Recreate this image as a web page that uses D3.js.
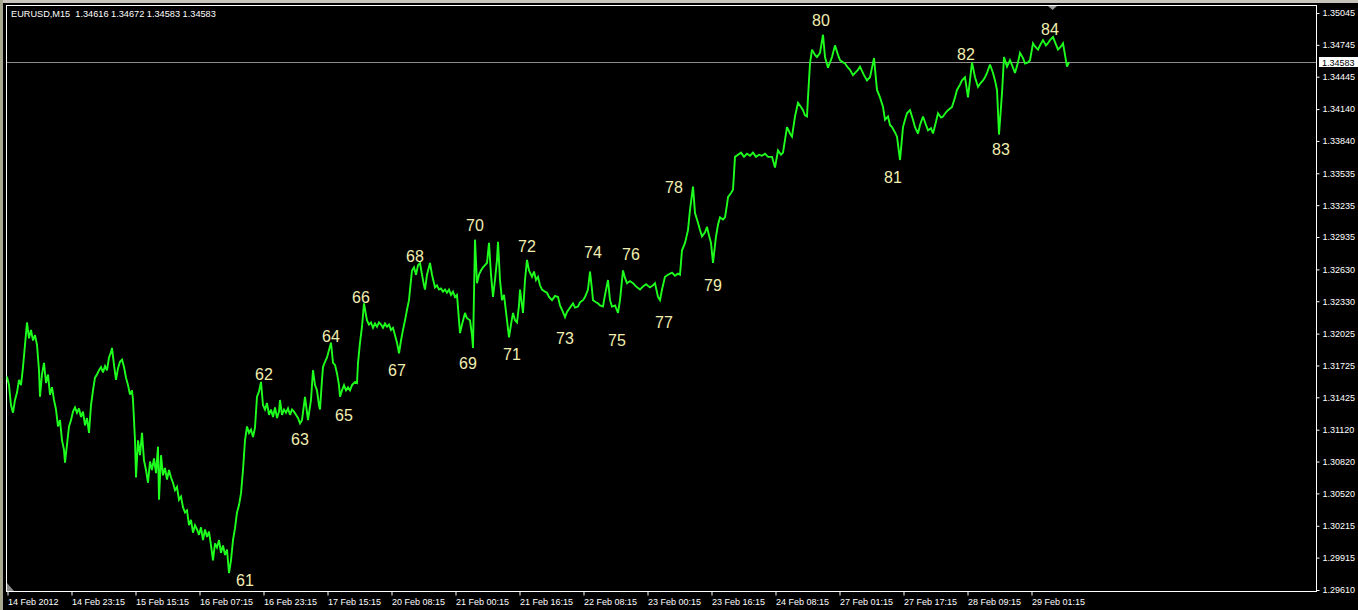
<!DOCTYPE html>
<html><head><meta charset="utf-8">
<script src="https://cdn.jsdelivr.net/npm/d3@7"></script>
<style>
html,body{margin:0;padding:0;background:#000;overflow:hidden}
svg{display:block}
text{font-family:"Liberation Sans",Arial,sans-serif}
</style></head><body>
<svg id="chart" width="1358" height="610"></svg>
<script>
// ---------- data ----------
const symbol = "EURUSD";
const timeframe = "M15";
const headerOHLC = [1.34616, 1.34672, 1.34583, 1.34583];
const bidPrice = 1.34583;

const priceTicks = [1.35045,1.34745,1.34445,1.34140,1.33840,1.33535,1.33235,1.32935,1.32630,
  1.32330,1.32025,1.31725,1.31425,1.31120,1.30820,1.30520,1.30215,1.29915,1.29610];

const timeTickBars = [0,64,128,192,256,320,384,448,512,576,640,704,768,832,896,960,1024];
const timeTickLabels = ["14 Feb 2012","14 Feb 23:15","15 Feb 15:15","16 Feb 07:15","16 Feb 23:15",
  "17 Feb 15:15","20 Feb 08:15","21 Feb 00:15","21 Feb 16:15","22 Feb 08:15","23 Feb 00:15",
  "23 Feb 16:15","24 Feb 08:15","27 Feb 01:15","27 Feb 17:15","28 Feb 09:15","29 Feb 01:15"];

// bar number (M15 bars since 14 Feb 07:15) and close price
const barIndex = [
  0,2,4,6,8,10,12,14,16,18,
  20,22,24,26,28,30,32,33,35,37,
  39,41,43,45,47,49,51,53,55,57,
  58,60,62,64,66,68,70,72,74,76,
  78,80,82,84,86,88,90,92,94,96,
  98,100,102,104,105,107,109,111,113,115,
  117,119,121,123,125,126,128,129,131,133,
  135,137,139,141,143,145,147,149,151,152,
  154,156,158,160,162,164,166,168,170,172,
  174,176,178,180,182,184,186,188,190,192,
  194,196,198,200,202,204,206,208,210,212,
  214,216,218,220,222,224,226,228,230,232,
  234,236,238,240,242,244,246,248,250,252,
  254,256,258,260,262,264,266,268,270,272,
  273,275,277,279,281,283,285,287,289,291,
  293,295,298,301,304,306,308,310,312,313,
  315,316,318,320,322,324,326,328,330,332,
  333,335,337,339,341,343,345,348,350,351,
  353,355,357,359,360,362,364,366,368,370,
  372,374,376,378,380,382,384,386,388,390,
  392,394,396,398,400,402,403,405,407,409,
  411,413,415,417,418,420,423,425,428,430,
  432,434,436,438,440,442,444,446,448,450,
  452,453,455,458,460,463,465,466,468,470,
  472,474,476,478,480,482,484,486,488,490,
  491,493,495,497,498,500,502,504,506,508,
  510,512,513,515,516,518,520,522,525,527,
  529,531,533,535,538,540,542,545,548,551,
  553,555,558,560,563,566,568,571,573,576,
  578,581,583,585,586,589,591,593,596,598,
  601,603,605,608,611,613,616,618,620,623,
  626,629,633,636,639,643,646,648,651,653,
  655,658,661,665,668,671,673,675,678,681,
  683,686,688,691,693,695,698,700,702,704,
  706,709,711,713,716,718,720,721,724,726,
  728,731,734,737,740,743,746,749,752,755,
  758,761,765,768,771,774,776,778,780,783,
  785,788,791,794,796,798,800,801,803,805,
  808,810,813,816,818,821,823,825,828,831,
  833,836,838,841,843,846,849,851,853,857,
  860,863,867,870,873,876,878,881,883,885,
  888,890,893,896,898,900,903,906,908,911,
  913,916,919,921,924,926,929,931,934,936,
  939,941,945,948,950,953,955,958,961,965,
  968,971,974,976,978,980,983,986,988,990,
  992,995,997,1000,1003,1006,1008,1011,1013,1016,
  1018,1021,1023,1026,1028,1031,1033,1036,1039,1041,
  1043,1046,1048,1051,1054,1056,1058,1060,1062
];
const closePrice = [
  1.3162,1.3154,1.3135,1.3128,1.3140,1.3147,1.3159,1.3154,1.3171,1.3192,
  1.3213,1.3198,1.3206,1.3196,1.3201,1.3192,1.3168,1.3143,1.3164,1.3175,
  1.3156,1.3164,1.3145,1.3152,1.3140,1.3131,1.3115,1.3121,1.3102,1.3093,
  1.3081,1.3098,1.3115,1.3121,1.3129,1.3133,1.3128,1.3132,1.3124,1.3129,
  1.3116,1.3123,1.3109,1.3135,1.3149,1.3161,1.3164,1.3168,1.3171,1.3166,
  1.3172,1.3168,1.3180,1.3185,1.3189,1.3173,1.3159,1.3170,1.3176,1.3178,
  1.3171,1.3161,1.3154,1.3145,1.3149,1.3140,1.3102,1.3067,1.3102,1.3088,
  1.3109,1.3083,1.3074,1.3062,1.3082,1.3074,1.3085,1.3071,1.3096,1.3046,
  1.3088,1.3069,1.3076,1.3065,1.3074,1.3067,1.3062,1.3055,1.3058,1.3046,
  1.3049,1.3039,1.3034,1.3036,1.3022,1.3027,1.3015,1.3022,1.3018,1.3013,
  1.3020,1.3008,1.3018,1.3011,1.3016,1.3003,1.2989,1.3005,1.3001,1.3008,
  1.2996,1.3003,1.2994,1.2999,1.2977,1.2989,1.3008,1.3019,1.3034,1.3041,
  1.3052,1.3074,1.3102,1.3115,1.3109,1.3112,1.3105,1.3114,1.3143,1.3148,
  1.3157,1.3135,1.3131,1.3137,1.3126,1.3131,1.3124,1.3133,1.3123,1.3129,
  1.3140,1.3126,1.3131,1.3128,1.3132,1.3126,1.3131,1.3129,1.3126,1.3123,
  1.3118,1.3121,1.3143,1.3121,1.3140,1.3168,1.3154,1.3149,1.3135,1.3131,
  1.3159,1.3171,1.3176,1.3180,1.3187,1.3194,1.3175,1.3173,1.3165,1.3154,
  1.3143,1.3149,1.3154,1.3149,1.3152,1.3149,1.3154,1.3157,1.3156,1.3175,
  1.3194,1.3209,1.3231,1.3220,1.3215,1.3211,1.3213,1.3208,1.3212,1.3209,
  1.3213,1.3211,1.3208,1.3212,1.3209,1.3211,1.3206,1.3208,1.3201,1.3194,
  1.3184,1.3196,1.3206,1.3215,1.3225,1.3234,1.3244,1.3262,1.3265,1.3258,
  1.3267,1.3269,1.3258,1.3248,1.3244,1.3258,1.3269,1.3258,1.3246,1.3248,
  1.3244,1.3245,1.3242,1.3244,1.3241,1.3244,1.3239,1.3242,1.3237,1.3239,
  1.3215,1.3203,1.3211,1.3222,1.3217,1.3215,1.3201,1.3189,1.3291,1.3250,
  1.3258,1.3262,1.3265,1.3267,1.3269,1.3288,1.3258,1.3237,1.3253,1.3272,
  1.3289,1.3253,1.3234,1.3239,1.3231,1.3215,1.3199,1.3211,1.3222,1.3215,
  1.3213,1.3229,1.3244,1.3229,1.3222,1.3253,1.3272,1.3262,1.3256,1.3261,
  1.3253,1.3256,1.3248,1.3244,1.3242,1.3241,1.3237,1.3234,1.3238,1.3237,
  1.3229,1.3225,1.3218,1.3223,1.3227,1.3231,1.3227,1.3228,1.3232,1.3234,
  1.3237,1.3244,1.3261,1.3244,1.3234,1.3232,1.3231,1.3229,1.3228,1.3239,
  1.3253,1.3234,1.3228,1.3229,1.3222,1.3234,1.3262,1.3255,1.3250,1.3252,
  1.3250,1.3247,1.3244,1.3247,1.3249,1.3246,1.3248,1.3250,1.3237,1.3234,
  1.3244,1.3256,1.3258,1.3260,1.3257,1.3259,1.3258,1.3281,1.3288,1.3300,
  1.3319,1.3341,1.3316,1.3307,1.3300,1.3294,1.3298,1.3303,1.3295,1.3288,
  1.3269,1.3294,1.3305,1.3312,1.3310,1.3312,1.3324,1.3331,1.3335,1.3338,
  1.3369,1.3371,1.3373,1.3369,1.3372,1.3370,1.3373,1.3369,1.3371,1.3370,
  1.3372,1.3369,1.3369,1.3359,1.3375,1.3371,1.3373,1.3385,1.3397,1.3391,
  1.3388,1.3407,1.3420,1.3416,1.3413,1.3408,1.3407,1.3425,1.3457,1.3470,
  1.3465,1.3463,1.3467,1.3484,1.3463,1.3453,1.3458,1.3463,1.3474,1.3465,
  1.3460,1.3458,1.3457,1.3453,1.3451,1.3446,1.3449,1.3451,1.3454,1.3446,
  1.3441,1.3444,1.3462,1.3432,1.3425,1.3416,1.3404,1.3407,1.3399,1.3397,
  1.3392,1.3388,1.3366,1.3397,1.3404,1.3410,1.3413,1.3404,1.3397,1.3391,
  1.3399,1.3407,1.3399,1.3394,1.3396,1.3391,1.3402,1.3410,1.3406,1.3407,
  1.3411,1.3413,1.3416,1.3425,1.3432,1.3437,1.3441,1.3444,1.3425,1.3458,
  1.3444,1.3435,1.3439,1.3441,1.3444,1.3448,1.3456,1.3448,1.3441,1.3432,
  1.3390,1.3429,1.3463,1.3454,1.3460,1.3453,1.3448,1.3458,1.3467,1.3462,
  1.3457,1.3458,1.3460,1.3476,1.3473,1.3470,1.3474,1.3479,1.3474,1.3476,
  1.3479,1.3482,1.3477,1.3470,1.3473,1.3476,1.3465,1.3454,1.34583
];

// wave count labels
const waveNames  = ["61","62","63","64","65","66","67","68","69","70","71","72",
                    "73","74","75","76","77","78","79","80","81","82","83","84"];
const waveBars   = [238,257,293,324,337,354,390,408,461,468,505,520,
                    558,586,610,624,657,667,706,814,886,959,994,1043];
const wavePrices = [1.2970,1.3164,1.3103,1.3200,1.3126,1.3237,1.3168,1.3275,1.3175,1.3305,1.3183,1.3285,
                    1.3198,1.3279,1.3196,1.3277,1.3213,1.3340,1.3248,1.3498,1.3350,1.3466,1.3376,1.3489];

// ---------- layout ----------
const W = 1358, H = 610;
const plot = {left: 6, top: 5, right: 1316, bottom: 591};
const svg = d3.select("#chart");

svg.append("rect").attr("width", W).attr("height", H).attr("fill", "#000");
// window edge
svg.append("rect").attr("x",0).attr("y",0).attr("width",W).attr("height",3).attr("fill","#c8c4bc");
svg.append("rect").attr("x",0).attr("y",0).attr("width",3).attr("height",H).attr("fill","#a8a890");

const x = d3.scaleLinear().domain([0, plot.right - 7]).range([7, plot.right]);
const y = d3.scaleLinear().domain([1.29610, 1.35045]).range([590, 13]);

// frame
svg.append("rect")
  .attr("x", plot.left + 0.5).attr("y", plot.top + 0.5)
  .attr("width", plot.right - plot.left).attr("height", plot.bottom - plot.top)
  .attr("fill", "none").attr("stroke", "#fff").attr("stroke-width", 1);

// bid line
const by = Math.round(y(bidPrice)) + 0.5;
svg.append("line").attr("x1", plot.left + 1).attr("x2", plot.right)
  .attr("y1", by).attr("y2", by).attr("stroke", "#8c8c8c").attr("stroke-width", 1);

// price line
const series = barIndex.slice(0, Math.min(barIndex.length, closePrice.length))
  .map((b, i) => ({bar: b, close: closePrice[i]}));
svg.append("path").datum(series)
  .attr("fill", "none").attr("stroke", "#1eff1e").attr("stroke-width", 1.9)
  .attr("stroke-linejoin", "miter").attr("stroke-miterlimit", 3)
  .attr("d", d3.line().x(d => x(d.bar)).y(d => y(d.close)));

// right price axis
const yAxis = d3.axisRight(y).tickValues(priceTicks).tickSize(3).tickPadding(3)
  .tickFormat(d3.format(".5f"));
const gy = svg.append("g").attr("transform", `translate(${plot.right + 0.5},0)`).call(yAxis);
gy.select(".domain").remove();
gy.selectAll(".tick line").attr("stroke", "#fff");
gy.selectAll(".tick text").attr("fill", "#fff").attr("font-size", 9)
  .attr("font-family", "'Liberation Sans',Arial,sans-serif");

// bottom time axis
const xAxis = d3.axisBottom(x).tickValues(timeTickBars).tickSize(4).tickPadding(3)
  .tickFormat((d, i) => timeTickLabels[i]);
const gx = svg.append("g").attr("transform", `translate(0.5,${plot.bottom + 0.5})`).call(xAxis);
gx.select(".domain").remove();
gx.selectAll(".tick line").attr("stroke", "#fff");
gx.selectAll(".tick text").attr("fill", "#fff").attr("font-size", 9)
  .attr("text-anchor", "start").attr("x", 0)
  .attr("font-family", "'Liberation Sans',Arial,sans-serif");

// bid price box on axis
svg.append("rect").attr("x", plot.right + 3).attr("y", by - 5.5)
  .attr("width", 39).attr("height", 10).attr("fill", "#fff");
svg.append("text").attr("x", plot.right + 6).attr("y", by)
  .attr("dy", "0.35em").attr("font-size", 9).attr("fill", "#000")
  .text(d3.format(".5f")(bidPrice));

// wave labels
svg.append("g").selectAll("text").data(waveNames).join("text")
  .attr("x", (d, i) => x(waveBars[i]))
  .attr("y", (d, i) => y(wavePrices[i]))
  .attr("dy", "0.36em")
  .attr("text-anchor", "middle")
  .attr("font-size", 16)
  .attr("fill", "#f2eeb0")
  .text(d => d);

// header
svg.append("text").attr("x", 11).attr("y", 13.5).attr("dy", "0.35em")
  .attr("font-size", 9.2).attr("fill", "#fff")
  .attr("xml:space", "preserve").style("white-space", "pre")
  .text(`${symbol},${timeframe}  ` + headerOHLC.map(d3.format(".5f")).join(" "));

// chart shift marker (top) and scroll marker (bottom-left)
svg.append("path").attr("d", "M1048,6 L1057,6 L1052.5,10 Z").attr("fill", "#9a9a9a");
svg.append("path").attr("d", `M7,${plot.bottom - 8} L7,${plot.bottom} L14,${plot.bottom} Z`).attr("fill", "#8a8a8a");
</script>
</body></html>
